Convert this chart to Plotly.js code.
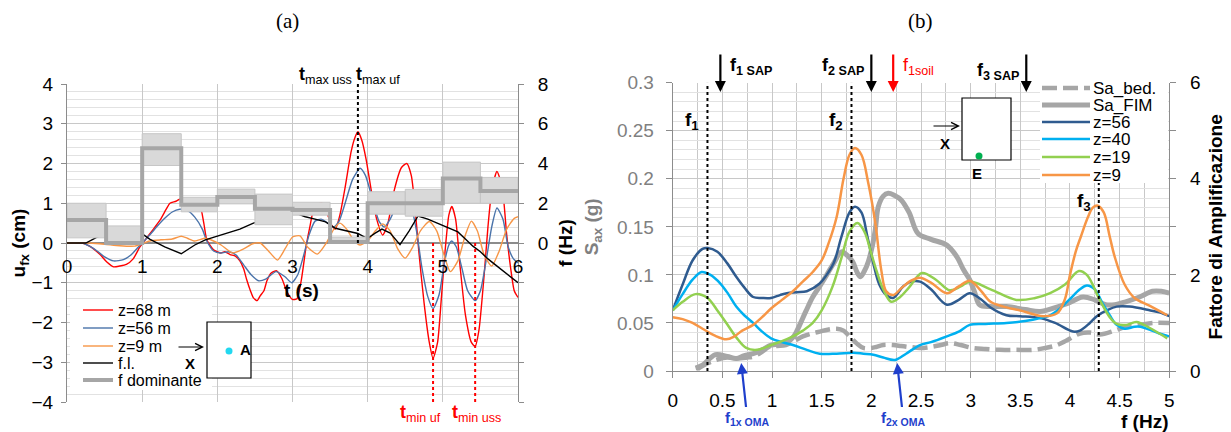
<!DOCTYPE html>
<html><head><meta charset="utf-8">
<script src="https://cdn.plot.ly/plotly-3.0.1.min.js"></script>
<style>html,body{margin:0;padding:0;background:#fff;}#chart{width:1231px;height:432px;}</style>
</head><body><div id="chart"></div>
<script>
// ---------- (a) time histories ----------
const tRed = [0,0.2,0.3,0.44,0.53,0.62,0.7,0.79,0.88,0.97,1.05,1.15,1.24,1.32,1.37,1.45,1.52,1.6,1.68,1.77,1.82,1.86,1.95,2.04,2.1,2.17,2.24,2.3,2.35,2.39,2.44,2.48,2.53,2.57,2.62,2.66,2.72,2.79,2.86,2.92,3.0,3.06,3.12,3.18,3.23,3.3,3.39,3.46,3.52,3.57,3.63,3.7,3.78,3.83,3.87,3.92,3.98,4.05,4.12,4.2,4.27,4.35,4.45,4.52,4.58,4.63,4.68,4.75,4.82,4.87,4.93,4.98,5.03,5.08,5.12,5.17,5.23,5.3,5.38,5.43,5.48,5.55,5.6,5.65,5.72,5.79,5.85,5.9,5.95,6.0];
const uRed = [0,0,-0.08,-0.29,-0.48,-0.6,-0.58,-0.54,-0.4,-0.1,0.1,0.35,0.58,0.85,1.0,1.05,1.12,1.08,1.0,0.92,0.5,0.08,-0.17,-0.25,-0.22,-0.29,-0.33,-0.45,-0.65,-0.92,-1.2,-1.38,-1.45,-1.33,-1.2,-0.95,-0.75,-0.7,-0.9,-1.2,-1.42,-1.4,-0.9,-0.1,0.4,0.95,1.0,0.75,0.45,0.35,0.7,1.4,2.3,2.65,2.8,2.6,2.1,1.3,0.6,0.2,0.5,1.3,1.9,2.0,1.7,0.9,-0.2,-1.5,-2.5,-2.9,-2.5,-1.4,-0.2,0.7,0.92,0.6,-0.6,-1.8,-2.5,-2.6,-2.2,-0.8,0.4,1.3,1.8,1.4,0.2,-0.6,-1.2,-1.37];
const tBlue = [0,0.2,0.3,0.4,0.5,0.62,0.75,0.85,0.95,1.0,1.1,1.2,1.3,1.4,1.5,1.6,1.7,1.8,1.86,1.95,2.05,2.15,2.25,2.35,2.45,2.55,2.65,2.78,2.9,2.99,3.07,3.15,3.22,3.3,3.38,3.47,3.55,3.62,3.7,3.8,3.9,3.97,4.05,4.15,4.22,4.3,4.4,4.5,4.57,4.65,4.72,4.8,4.87,4.95,5.02,5.08,5.12,5.18,5.25,5.33,5.43,5.5,5.58,5.65,5.72,5.8,5.87,5.94,6.0];
const uBlue = [0,0,-0.08,-0.2,-0.35,-0.45,-0.42,-0.3,-0.1,0,0.2,0.42,0.62,0.78,0.85,0.82,0.65,0.35,0.05,-0.2,-0.25,-0.22,-0.3,-0.55,-0.8,-0.95,-0.9,-0.72,-0.85,-1.0,-0.8,-0.3,0.2,0.55,0.6,0.5,0.4,0.55,1.0,1.6,1.88,1.7,1.2,0.55,0.4,0.6,1.0,1.2,1.0,0.3,-0.6,-1.35,-1.65,-1.3,-0.5,-0.05,0.05,-0.1,-0.6,-1.2,-1.45,-1.2,-0.4,0.4,0.88,0.6,-0.1,-0.4,-0.5];
const tOr = [0,0.3,0.5,0.7,0.9,1.0,1.1,1.25,1.4,1.52,1.6,1.7,1.84,1.95,2.05,2.2,2.35,2.47,2.57,2.68,2.8,2.9,3.0,3.1,3.2,3.33,3.45,3.55,3.63,3.72,3.82,3.9,4.0,4.1,4.2,4.3,4.4,4.5,4.6,4.7,4.82,4.92,5.0,5.1,5.2,5.3,5.38,5.46,5.55,5.65,5.75,5.85,5.95,6.0];
const uOr = [0,0,-0.03,-0.07,-0.08,-0.02,0.05,0.08,0.1,0.17,0.12,0.05,0.12,0.05,-0.05,-0.25,-0.15,-0.02,0.0,-0.2,-0.43,-0.15,0.15,0.18,-0.1,-0.28,0.0,0.35,0.5,0.35,0.05,-0.05,0.05,0.3,0.48,0.3,-0.15,-0.38,-0.1,0.3,0.54,0.3,-0.2,-0.72,-0.45,0.2,0.55,0.3,-0.3,-0.58,-0.2,0.35,0.62,0.66];
const tFl = [0,0.25,0.4,0.6,0.8,0.95,1.1,1.3,1.52,1.7,1.84,2.0,2.12,2.3,2.48,2.58,2.68,2.78,2.88,3.04,3.17,3.3,3.44,3.57,3.75,3.87,3.96,4.0,4.1,4.19,4.3,4.43,4.55,4.67,4.8,4.95,5.09,5.2,5.3,5.4,5.5,5.6,5.7,5.8,5.9,6.0];
const uFl = [0,0,0.15,0.3,0.38,0.3,0.1,-0.1,-0.27,-0.05,0.08,0.18,0.25,0.35,0.5,0.56,0.52,0.7,0.9,0.75,0.66,0.6,0.53,0.37,0.3,0.24,0.15,0.12,0.25,0.35,0.25,-0.04,0.3,0.68,0.6,0.48,0.36,0.28,0.1,-0.08,-0.22,-0.4,-0.55,-0.7,-0.85,-1.0];
// dominant frequency (Hz) per window and its band
const stepT = [0,0.52,1.0,1.52,2.0,2.5,3.0,3.5,4.0,5.0,5.5,6.0];
const stepF = [1.16,0.0,4.77,1.92,2.32,1.72,1.66,0.05,2.0,3.25,2.62,2.62];
const boxT0 = [0,0.52,1.0,1.52,2.0,2.5,3.0,3.5,4.0,4.5,5.0,5.5];
const boxT1 = [0.52,1.0,1.52,2.0,2.5,3.0,3.5,4.0,4.5,5.0,5.5,6.0];
const boxLo = [0.26,0.0,3.9,1.57,1.97,0.92,1.4,0.0,1.45,1.35,2.0,2.0];
const boxHi = [2.0,0.86,5.5,2.3,2.71,2.46,2.05,0.3,2.58,2.7,4.07,3.3];
const tMax = [3.87];           // t max uss / t max uf
const tMin = [4.87, 5.43];     // t min uf, t min uss

// ---------- (b) spectra ----------
const f56 = [0,0.1,0.2,0.3,0.35,0.45,0.55,0.64,0.72,0.81,0.9,0.99,1.08,1.15,1.25,1.35,1.48,1.55,1.62,1.7,1.78,1.835,1.9,1.96,2.02,2.08,2.15,2.22,2.32,2.4,2.49,2.6,2.76,2.88,2.99,3.1,3.2,3.36,3.5,3.7,3.85,4.03,4.1,4.2,4.27,4.37,4.47,4.6,4.81,4.9,5.0];
const s56 = [0.063,0.09,0.115,0.127,0.128,0.124,0.112,0.098,0.087,0.077,0.076,0.076,0.079,0.081,0.082,0.083,0.091,0.1,0.112,0.14,0.165,0.171,0.165,0.14,0.112,0.09,0.079,0.076,0.088,0.093,0.093,0.085,0.069,0.074,0.081,0.075,0.066,0.058,0.057,0.055,0.05,0.041,0.042,0.05,0.057,0.063,0.067,0.067,0.063,0.061,0.057];
const f40 = [0,0.1,0.2,0.29,0.38,0.48,0.56,0.64,0.72,0.81,0.9,0.99,1.1,1.21,1.35,1.48,1.65,1.82,1.92,2.02,2.12,2.24,2.35,2.49,2.6,2.76,2.88,2.99,3.15,3.36,3.55,3.7,3.8,3.9,4.0,4.1,4.17,4.25,4.32,4.4,4.47,4.55,4.65,4.71,4.8,4.9,5.0];
const s40 = [0.063,0.08,0.095,0.103,0.1,0.091,0.08,0.067,0.058,0.05,0.041,0.034,0.03,0.027,0.022,0.018,0.018,0.019,0.018,0.017,0.014,0.0115,0.018,0.027,0.03,0.036,0.041,0.048,0.049,0.05,0.052,0.055,0.058,0.065,0.075,0.085,0.089,0.085,0.072,0.058,0.048,0.044,0.046,0.046,0.043,0.039,0.036];
const f19 = [0,0.1,0.23,0.35,0.45,0.54,0.64,0.74,0.85,0.99,1.1,1.21,1.31,1.41,1.5,1.61,1.7,1.78,1.86,1.93,2.0,2.05,2.12,2.2,2.29,2.38,2.51,2.65,2.79,2.9,2.99,3.2,3.46,3.65,3.8,3.95,4.09,4.17,4.3,4.4,4.47,4.57,4.67,4.8,4.9,4.98];
const s19 = [0.063,0.072,0.08,0.076,0.063,0.05,0.035,0.024,0.022,0.027,0.031,0.036,0.042,0.05,0.063,0.088,0.118,0.145,0.154,0.145,0.122,0.105,0.085,0.072,0.077,0.087,0.102,0.095,0.084,0.088,0.093,0.085,0.074,0.076,0.081,0.09,0.104,0.1,0.074,0.056,0.049,0.048,0.051,0.045,0.039,0.034];
const f9 = [0,0.1,0.2,0.3,0.42,0.54,0.62,0.7,0.81,0.9,0.99,1.1,1.21,1.31,1.41,1.5,1.57,1.65,1.72,1.78,1.835,1.9,1.97,2.04,2.1,2.15,2.22,2.3,2.4,2.49,2.6,2.76,2.88,2.99,3.1,3.2,3.33,3.5,3.73,3.87,3.95,4.0,4.06,4.11,4.18,4.23,4.28,4.34,4.4,4.45,4.55,4.65,4.8,4.98];
const s9 = [0.056,0.054,0.05,0.044,0.037,0.033,0.036,0.042,0.048,0.056,0.065,0.074,0.083,0.093,0.103,0.115,0.133,0.16,0.2,0.225,0.232,0.225,0.195,0.154,0.105,0.083,0.079,0.086,0.094,0.097,0.092,0.081,0.088,0.094,0.084,0.072,0.067,0.063,0.057,0.06,0.075,0.1,0.125,0.14,0.16,0.17,0.172,0.165,0.14,0.119,0.09,0.076,0.068,0.058];
const fFim = [0.23,0.3,0.43,0.55,0.64,0.72,0.81,0.9,0.99,1.07,1.15,1.22,1.27,1.34,1.41,1.48,1.54,1.62,1.7,1.76,1.81,1.86,1.89,1.93,1.97,2.01,2.04,2.07,2.12,2.17,2.23,2.3,2.38,2.47,2.6,2.76,2.86,2.93,2.99,3.04,3.09,3.2,3.36,3.55,3.7,3.85,3.97,4.13,4.25,4.36,4.45,4.56,4.7,4.83,4.92,5.0];
const sFim = [0.003,0.006,0.017,0.015,0.013,0.016,0.018,0.022,0.027,0.028,0.03,0.036,0.046,0.062,0.077,0.088,0.098,0.112,0.124,0.12,0.114,0.102,0.098,0.104,0.114,0.13,0.147,0.171,0.182,0.185,0.183,0.178,0.165,0.143,0.137,0.131,0.119,0.105,0.095,0.082,0.069,0.067,0.067,0.064,0.062,0.066,0.07,0.077,0.074,0.069,0.069,0.072,0.077,0.083,0.083,0.081];
const fBed = [0.25,0.35,0.45,0.55,0.65,0.75,0.81,0.9,0.97,1.05,1.14,1.22,1.31,1.4,1.48,1.56,1.65,1.72,1.78,1.85,1.92,2.0,2.05,2.12,2.22,2.3,2.38,2.49,2.6,2.7,2.79,2.9,3.02,3.15,3.29,3.45,3.63,3.75,3.87,3.97,4.1,4.2,4.3,4.45,4.56,4.7,4.83,5.0];
const sBed = [0.002,0.008,0.012,0.014,0.013,0.014,0.015,0.02,0.025,0.026,0.027,0.031,0.036,0.039,0.041,0.043,0.044,0.042,0.036,0.029,0.024,0.024,0.025,0.027,0.027,0.026,0.025,0.024,0.025,0.027,0.029,0.027,0.024,0.023,0.022,0.022,0.022,0.024,0.027,0.032,0.039,0.04,0.038,0.042,0.046,0.048,0.05,0.05];
const modeF = [0.35, 1.8, 4.29];          // f1, f2, f3
const modeLabels = ['1','2','3'];
const sapF = [0.48, 2.0, 3.56];           // f1 SAP, f2 SAP, f3 SAP
const sapLabels = ['1 SAP','2 SAP','3 SAP'];
const soilF = [2.22];                      // f1soil
const omaF = [0.69, 2.26];                // f1x OMA, f2x OMA
const omaLabels = ['1x OMA','2x OMA'];

// ---------- helpers ----------
const W = 1231, H = 432;
const PX = p => p / W, PY = p => 1 - p / H;
const FONT = 'Liberation Sans, Arial, sans-serif';
const GRID = '#C8C8C8', MINOR = '#E2E2E2', AX = '#8C8C8C';
const BEDDASH = '15px,6px';

const bx = [], by = [];
for (let i = 0; i < boxT0.length; i++) {
  bx.push(boxT0[i], boxT1[i], boxT1[i], boxT0[i], boxT0[i], null);
  by.push(boxLo[i], boxLo[i], boxHi[i], boxHi[i], boxLo[i], null);
}

const sA = {
  red:  {color: '#FF0000', width: 1.4, shape: 'spline', smoothing: 0.6},
  blue: {color: '#4A73AA', width: 1.4, shape: 'spline', smoothing: 0.6},
  or:   {color: '#F79646', width: 1.4, shape: 'spline', smoothing: 0.6},
  fl:   {color: '#000000', width: 1.4},
  dom:  {color: '#A6A6A6', width: 4, shape: 'hv'}
};
const sB = {
  bed: {color: '#A6A6A6', width: 4.5, dash: BEDDASH, shape: 'spline'},
  fim: {color: '#A6A6A6', width: 5, shape: 'spline'},
  z56: {color: '#2F5B8F', width: 2.5, shape: 'spline'},
  z40: {color: '#00B0F0', width: 2.5, shape: 'spline'},
  z19: {color: '#92D050', width: 2.5, shape: 'spline'},
  z9:  {color: '#F79646', width: 2.5, shape: 'spline'}
};

const tracesA = [
  {x: tRed, y: uRed, name: 'z=68 m', xaxis: 'x', yaxis: 'y', line: sA.red},
  {x: tBlue, y: uBlue, name: 'z=56 m', xaxis: 'x', yaxis: 'y', line: sA.blue},
  {x: tOr, y: uOr, name: 'z=9 m', xaxis: 'x', yaxis: 'y', line: sA.or},
  {x: tFl, y: uFl, name: 'f.l.', xaxis: 'x', yaxis: 'y', line: sA.fl},
  {x: stepT, y: stepF, name: 'f dominante', xaxis: 'x3', yaxis: 'y2', line: sA.dom}
];
const tracesB = [
  {x: fBed, y: sBed, name: 'Sa_bed.', xaxis: 'x2', yaxis: 'y3', line: sB.bed},
  {x: fFim, y: sFim, name: 'Sa_FIM', xaxis: 'x2', yaxis: 'y3', line: sB.fim},
  {x: f56, y: s56, name: 'z=56', xaxis: 'x2', yaxis: 'y3', line: sB.z56},
  {x: f40, y: s40, name: 'z=40', xaxis: 'x2', yaxis: 'y3', line: sB.z40},
  {x: f19, y: s19, name: 'z=19', xaxis: 'x2', yaxis: 'y3', line: sB.z19},
  {x: f9, y: s9, name: 'z=9', xaxis: 'x2', yaxis: 'y3', line: sB.z9}
];
[...tracesA, ...tracesB].forEach(t => { t.mode = 'lines'; t.showlegend = false; });

const traces = [
  {x: bx, y: by, xaxis: 'x3', yaxis: 'y2', mode: 'lines', fill: 'toself', fillcolor: '#D9D9D9',
   line: {color: '#C6C6C6', width: 1}, showlegend: false, hoverinfo: 'skip'},
  ...tracesA, ...tracesB,
  // carrier for the right-hand amplification axis
  {x: [null], y: [null], xaxis: 'x2', yaxis: 'y4', mode: 'lines', showlegend: false, hoverinfo: 'skip'}
];

const shapes = [];
const ann = [];
const txt = (x, y, text, size, color, extra) => Object.assign({xref: 'paper', yref: 'paper', x: PX(x), y: PY(y), xanchor: 'center', yanchor: 'middle', text: text, showarrow: false, font: {family: FONT, size: size, color: color || '#000'}}, extra || {});

tMax.forEach(t => shapes.push({type: 'line', xref: 'x', yref: 'y', x0: t, x1: t, y0: 0, y1: 4, line: {color: '#000', width: 2, dash: 'dot'}}));
tMin.forEach(t => shapes.push({type: 'line', xref: 'x', yref: 'y', x0: t, x1: t, y0: 0, y1: -4, line: {color: '#FF0000', width: 2, dash: 'dot'}}));
modeF.forEach(f => shapes.push({type: 'line', xref: 'x2', yref: 'y3', x0: f, x1: f, y0: 0, y1: 0.3, line: {color: '#000', width: 2, dash: 'dot'}}));

// legend boxes (drawn from the traces' own names and styles)
function legendBox(list, x0, x1, y0, y1, rows, lx0, lx1, tx, fsize) {
  shapes.push({type: 'rect', xref: 'paper', yref: 'paper', x0: PX(x0), x1: PX(x1), y0: PY(y1), y1: PY(y0), line: {width: 0}, fillcolor: '#fff'});
  list.forEach((t, i) => {
    shapes.push({type: 'line', xref: 'paper', yref: 'paper', x0: PX(lx0), x1: PX(lx1), y0: PY(rows[i]), y1: PY(rows[i]),
                 line: {color: t.line.color, width: t.line.width, dash: t.line.dash || 'solid'}});
    ann.push(txt(tx, rows[i], t.name, fsize, '#000', {xanchor: 'left'}));
  });
}
legendBox(tracesA, 70, 212, 300, 390, [310, 328, 346, 363, 380], 83, 113, 116, 16);
legendBox(tracesB, 1040, 1168, 79, 183, [88, 105, 122, 139, 157, 175], 1042, 1090, 1091, 17);

// insets
shapes.push({type: 'rect', xref: 'paper', yref: 'paper', x0: PX(207), x1: PX(251), y0: PY(378), y1: PY(322), line: {color: '#000', width: 1.2}, fillcolor: '#fff'});
shapes.push({type: 'circle', xref: 'paper', yref: 'paper', x0: PX(225.5), x1: PX(232.5), y0: PY(354.5), y1: PY(347.5), line: {width: 0}, fillcolor: '#22D8F0'});
shapes.push({type: 'rect', xref: 'paper', yref: 'paper', x0: PX(962), x1: PX(1011), y0: PY(160), y1: PY(98), line: {color: '#000', width: 1.2}, fillcolor: '#fff'});
shapes.push({type: 'circle', xref: 'paper', yref: 'paper', x0: PX(975.5), x1: PX(982.5), y0: PY(159.5), y1: PY(152.5), line: {width: 0}, fillcolor: '#00B050'});

const SERIF = 'Liberation Serif, Times New Roman, serif';
ann.push(txt(287, 21, '(a)', 21, '#000', {font: {family: SERIF, size: 21, color: '#000'}}));
ann.push(txt(920, 21, '(b)', 21, '#000', {font: {family: SERIF, size: 21, color: '#000'}}));
ann.push(txt(325, 75, '<b>t</b><sub>max uss</sub>', 18));
ann.push(txt(378, 75, '<b>t</b><sub>max uf</sub>', 18));
ann.push(txt(420, 413, '<b>t</b><sub>min uf</sub>', 18, '#FF0000'));
ann.push(txt(476, 413, '<b>t</b><sub>min uss</sub>', 18, '#FF0000'));
ann.push(txt(301, 290, '<b>t (s)</b>', 19));
ann.push(txt(1170, 421, '<b>f (Hz)</b>', 19, '#000', {xanchor: 'right'}));
ann.push({xref: 'paper', yref: 'paper', x: PX(204), y: PY(347), ax: -27, ay: 0, text: '', showarrow: true, arrowhead: 5, arrowsize: 1.2, arrowwidth: 1.2, arrowcolor: '#000'});
ann.push(txt(190, 363, '<b>X</b>', 15));
ann.push(txt(245, 349, '<b>A</b>', 15));
ann.push({xref: 'paper', yref: 'paper', x: PX(960), y: PY(126), ax: -28, ay: 0, text: '', showarrow: true, arrowhead: 5, arrowsize: 1.2, arrowwidth: 1.2, arrowcolor: '#000'});
ann.push(txt(945, 143, '<b>X</b>', 15));
ann.push(txt(977, 173, '<b>E</b>', 15));
sapF.forEach((f, i) => {
  ann.push({xref: 'x2', yref: 'paper', x: f, y: PY(92), ax: 0, ay: -39, text: '', showarrow: true, arrowhead: 2, arrowsize: 1, arrowwidth: 2.2, arrowcolor: '#000'});
  const left = (i === 0);
  ann.push({xref: 'x2', yref: 'paper', x: f, y: PY(i === 2 ? 72 : 67), xanchor: left ? 'left' : 'right', yanchor: 'middle', xshift: left ? 8 : -5,
            text: '<b>f<sub>' + sapLabels[i] + '</sub></b>', showarrow: false, font: {family: FONT, size: 18, color: '#000'}});
});
soilF.forEach(f => {
  ann.push({xref: 'x2', yref: 'paper', x: f, y: PY(92), ax: 0, ay: -39, text: '', showarrow: true, arrowhead: 2, arrowsize: 1, arrowwidth: 2.2, arrowcolor: '#FF0000'});
  ann.push({xref: 'x2', yref: 'paper', x: f, y: PY(67), xanchor: 'left', yanchor: 'middle', xshift: 8, text: 'f<sub>1soil</sub>', showarrow: false, font: {family: FONT, size: 18, color: '#FF0000'}});
});
omaF.forEach((f, i) => {
  ann.push({xref: 'x2', yref: 'paper', x: f, y: PY(363), ax: 6, ay: 55, text: '<b>f<sub>' + omaLabels[i] + '</sub></b>', showarrow: true,
            arrowhead: 2, arrowsize: 1, arrowwidth: 2.2, arrowcolor: '#1F3FCC', standoff: 0, font: {family: FONT, size: 15, color: '#1F3FCC'}});
});
modeF.forEach((f, i) => {
  ann.push({xref: 'x2', yref: 'paper', x: f, y: PY(i === 2 ? 202 : 121), xanchor: 'center', yanchor: 'middle', xshift: -15,
            text: '<b>f<sub>' + modeLabels[i] + '</sub></b>', showarrow: false, font: {family: FONT, size: 19, color: '#000'}});
});

const layout = {
  width: W, height: H, margin: {l: 0, r: 0, t: 0, b: 0, pad: 0},
  paper_bgcolor: '#fff', plot_bgcolor: '#fff', showlegend: false,
  font: {family: FONT, size: 18, color: '#000'},
  xaxis: {domain: [PX(67), PX(518)], anchor: 'y', range: [0, 6], dtick: 1, showgrid: true, gridcolor: GRID,
          showticklabels: false, ticks: '', zeroline: false, showline: false},
  xaxis3: {overlaying: 'x', anchor: 'free', position: PY(243.3), range: [0, 6], dtick: 1, showgrid: false, zeroline: false,
           showline: false, ticks: '', ticklabelstandoff: 10, tickfont: {size: 19, color: '#000'}},
  yaxis: {domain: [PY(402), PY(84)], anchor: 'x', range: [-4, 4], dtick: 1, showgrid: true, gridcolor: GRID,
          minor: {dtick: 0.2, showgrid: true, gridcolor: MINOR},
          zeroline: true, zerolinecolor: AX, zerolinewidth: 1.3, showline: true, linecolor: AX, ticks: 'outside', ticklen: 5, tickcolor: AX,
          tickfont: {size: 19, color: '#000'}, ticklabelstandoff: 4,
          title: {text: '<b>u<sub>fx</sub> (cm)</b>', font: {size: 19}, standoff: 0}},
  yaxis2: {overlaying: 'y', anchor: 'x3', side: 'right', range: [-8, 8], tickvals: [0, 2, 4, 6, 8],
           minor: {dtick: 2, ticks: 'outside', ticklen: 5, tickcolor: AX},
           showgrid: false, zeroline: false, showline: true, linecolor: AX, ticks: 'outside', ticklen: 5, tickcolor: AX,
           tickfont: {size: 19, color: '#000'}, ticklabelstandoff: 10,
           title: {text: '<b>f (Hz)</b>', font: {size: 19}, standoff: 10}},
  xaxis2: {domain: [PX(672.7), PX(1169.3)], anchor: 'y3', range: [0, 5], dtick: 0.5, showgrid: true, gridcolor: GRID,
           minor: {dtick: 0.25, showgrid: true, gridcolor: GRID},
           zeroline: false, showline: true, linecolor: AX, ticks: 'outside', ticklen: 6, tickcolor: AX,
           tickfont: {size: 19, color: '#000'}, ticklabelstandoff: 6},
  yaxis3: {domain: [PY(371), PY(82.7)], anchor: 'x2', range: [0, 0.3], dtick: 0.05, showgrid: true, gridcolor: GRID,
           minor: {dtick: 0.01, showgrid: true, gridcolor: MINOR},
           zeroline: false, showline: true, linecolor: AX, ticks: 'outside', ticklen: 6, tickcolor: AX,
           tickfont: {size: 19, color: '#808080'}, ticklabelstandoff: 8,
           title: {text: '<b>S<sub>ax</sub> (g)</b>', font: {size: 19, color: '#808080'}, standoff: 13}},
  yaxis4: {overlaying: 'y3', anchor: 'x2', side: 'right', range: [0, 6], dtick: 2,
           minor: {dtick: 1, ticks: 'outside', ticklen: 6, tickcolor: AX},
           showgrid: false, zeroline: false, showline: true, linecolor: AX, ticks: 'outside', ticklen: 6, tickcolor: AX,
           tickfont: {size: 19, color: '#000'}, ticklabelstandoff: 10,
           title: {text: '<b>Fattore di Amplificazione</b>', font: {size: 19}, standoff: 8}},
  shapes: shapes, annotations: ann
};
Plotly.newPlot('chart', traces, layout, {displayModeBar: false, staticPlot: true});
</script></body></html>
